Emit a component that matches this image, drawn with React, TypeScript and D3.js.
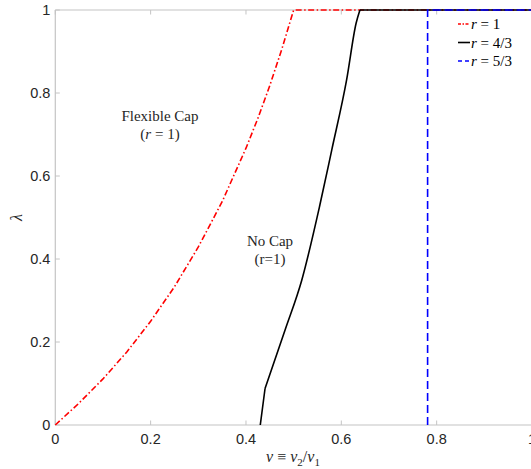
import * as d3 from 'd3';

// values
const flexV = [0, 0.05, 0.1, 0.15, 0.2, 0.25, 0.3, 0.35, 0.4, 0.425, 0.45, 0.475, 0.5, 1];
const flexL = [0, 0.053, 0.111, 0.176, 0.25, 0.333, 0.429, 0.538, 0.667, 0.739, 0.818, 0.905, 1, 1];

const noCapV = [0.43, 0.44, 0.482, 0.517, 0.555, 0.58, 0.611, 0.631, 0.639, 1];
const noCapL = [0, 0.088, 0.229, 0.349, 0.53, 0.663, 0.831, 0.968, 1, 1];

const fiveThirdsV = [0.781, 0.781, 1];
const fiveThirdsL = [0, 1, 1];

const xTicks = [0, 0.2, 0.4, 0.6, 0.8, 1];
const yTicks = [0, 0.2, 0.4, 0.6, 0.8, 1];
const tickLabels = ['0', '0.2', '0.4', '0.6', '0.8', '1'];

const legendLabels = ['1', '4/3', '5/3'];

const W = 531;
const H = 469;

const series = [
  { v: flexV, l: flexL, color: '#ff0000', dash: '6,2.5,1.5,2.5', smooth: false },
  { v: noCapV, l: noCapL, color: '#000000', dash: null, smooth: true },
  { v: fiveThirdsV, l: fiveThirdsL, color: '#0000ff', dash: '8,4', smooth: false },
];

export default function App() {
  const x = d3.scaleLinear().domain([0, 1]).range([55.3, 532]);
  const y = d3.scaleLinear().domain([0, 1]).range([425, 10]);

  const line = d3
    .line<[number, number]>()
    .x((d) => x(d[0]))
    .y((d) => y(d[1]));

  const smoothLine = d3
    .line<[number, number]>()
    .x((d) => x(d[0]))
    .y((d) => y(d[1]))
    .curve(d3.curveMonotoneX);

  const pathFor = (s: (typeof series)[number]) => {
    const pts = s.v.map((v, j) => [v, s.l[j]] as [number, number]);
    if (!s.smooth) return line(pts) || '';
    // sharp kink at the first step, smooth body, flat top
    const head = line(pts.slice(0, 2)) || '';
    const body = smoothLine(pts.slice(1, pts.length - 1)) || '';
    const tail = line(pts.slice(pts.length - 2)) || '';
    return head + body + tail;
  };

  const axisColor = '#c4c4c4';
  const tickFont = '"Liberation Sans", Arial, sans-serif';
  const serif = '"Liberation Serif", "Times New Roman", serif';

  return (
    <svg
      width={W}
      height={H}
      style={{ position: 'absolute', left: 0, top: 0, display: 'block', background: '#fff' }}
    >
      {/* axes box */}
      <line x1={x(0)} x2={x(1)} y1={y(0)} y2={y(0)} stroke={axisColor} strokeWidth={1.2} />
      <line x1={x(0)} x2={x(1)} y1={y(1)} y2={y(1)} stroke={axisColor} strokeWidth={1.2} />
      <line x1={x(0)} x2={x(0)} y1={y(0)} y2={y(1)} stroke={axisColor} strokeWidth={1.2} />

      {/* x ticks */}
      {xTicks.map((t, i) => (
        <g key={'x' + i}>
          <line x1={x(t)} x2={x(t)} y1={y(0)} y2={y(0) - 4.5} stroke={axisColor} />
          <line x1={x(t)} x2={x(t)} y1={y(1)} y2={y(1) + 4.5} stroke={axisColor} />
          <text
            x={x(t)}
            y={y(0) + 19}
            textAnchor="middle"
            fontFamily={tickFont}
            fontSize={14.5}
            fill="#262626"
          >
            {tickLabels[i]}
          </text>
        </g>
      ))}

      {/* y ticks */}
      {yTicks.map((t, i) => (
        <g key={'y' + i}>
          <line x1={x(0)} x2={x(0) + 4.5} y1={y(t)} y2={y(t)} stroke={axisColor} />
          <text
            x={x(0) - 5}
            y={y(t) + 5}
            textAnchor="end"
            fontFamily={tickFont}
            fontSize={14.5}
            fill="#262626"
          >
            {tickLabels[i]}
          </text>
        </g>
      ))}

      {/* curves */}
      {series.map((s, i) => (
        <path
          key={'s' + i}
          d={pathFor(s)}
          fill="none"
          stroke={s.color}
          strokeWidth={1.6}
          strokeDasharray={s.dash || undefined}
        />
      ))}

      {/* annotations */}
      <text x={160} y={121} textAnchor="middle" fontFamily={serif} fontSize={15} fill="#262626">
        Flexible Cap
      </text>
      <text x={160} y={139} textAnchor="middle" fontFamily={serif} fontSize={15} fill="#262626">
        (<tspan fontStyle="italic">r</tspan> = 1)
      </text>
      <text x={270} y={246} textAnchor="middle" fontFamily={serif} fontSize={15} fill="#262626">
        No Cap
      </text>
      <text x={270} y={264} textAnchor="middle" fontFamily={serif} fontSize={15} fill="#262626">
        (r=1)
      </text>

      {/* axis labels */}
      <text
        x={293}
        y={462}
        textAnchor="middle"
        fontFamily={serif}
        fontSize={16}
        fill="#262626"
      >
        <tspan fontStyle="italic">v</tspan> ≡ <tspan fontStyle="italic">v</tspan>
        <tspan fontSize={11} dy={4}>2</tspan>
        <tspan dy={-4}>/</tspan>
        <tspan fontStyle="italic">v</tspan>
        <tspan fontSize={11} dy={4}>1</tspan>
      </text>
      <text
        transform={`translate(22,${(y(0) + y(1)) / 2}) rotate(-90)`}
        textAnchor="middle"
        fontFamily={serif}
        fontStyle="italic"
        fontSize={16}
        fill="#262626"
      >
        λ
      </text>

      {/* legend */}
      {series.map((s, i) => (
        <g key={'lg' + i} transform={`translate(458,${24 + i * 18.5})`}>
          <line
            x1={0}
            x2={12}
            y1={0}
            y2={0}
            stroke={s.color}
            strokeWidth={1.6}
            strokeDasharray={s.dash ? (i === 0 ? '3,1.5,1.5,1.5' : '4,3') : undefined}
          />
          <text x={13} y={5} fontFamily={serif} fontSize={15} fill="#000">
            <tspan fontStyle="italic">r</tspan> = {legendLabels[i]}
          </text>
        </g>
      ))}
    </svg>
  );
}
